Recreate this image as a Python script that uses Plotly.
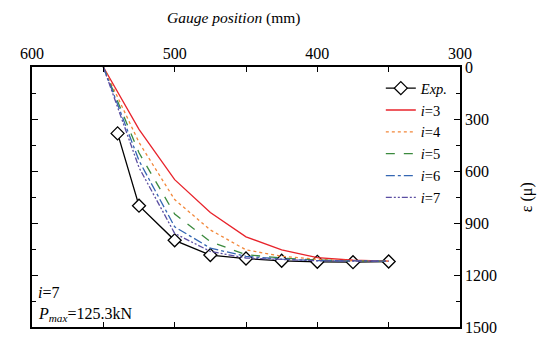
import plotly.graph_objects as go

# Gauge positions (mm)
pos_exp = [540, 525, 500, 475, 450, 425, 400, 375, 350]
exp_vals = [383, 800, 1000, 1085, 1105, 1118, 1124, 1126, 1122]

pos_model = [550, 525, 500, 475, 450, 425, 400, 375, 350]
i3 = [0, 360, 650, 840, 980, 1055, 1100, 1115, 1120]
i4 = [0, 435, 765, 940, 1055, 1092, 1110, 1118, 1120]
i5 = [0, 495, 848, 1007, 1083, 1102, 1114, 1120, 1120]
i6 = [0, 540, 922, 1045, 1092, 1108, 1117, 1120, 1120]
i7 = [0, 580, 960, 1064, 1102, 1112, 1118, 1120, 1120]

x_ticks = [600, 500, 400, 300]
y_ticks = [0, 300, 600, 900, 1200, 1500]

FONT = "Liberation Serif"

fig = go.Figure()
fig.add_trace(go.Scatter(x=pos_exp, y=exp_vals, name="<i>Exp.</i>", mode="lines+markers",
                         line=dict(color="black", width=1.3),
                         marker=dict(symbol="diamond", size=10, color="white",
                                     line=dict(color="black", width=1.3))))
styles = [
    ("<i>i</i>=3", i3, "#e8232b", "solid"),
    ("<i>i</i>=4", i4, "#f2873a", "dot"),
    ("<i>i</i>=5", i5, "#3b8a3e", "dash"),
    ("<i>i</i>=6", i6, "#3567b3", "dashdot"),
    ("<i>i</i>=7", i7, "#5b4ea2", "6px,2px,2px,2px,2px,2px"),
]
for name, vals, col, dash in styles:
    fig.add_trace(go.Scatter(x=pos_model, y=vals, name=name, mode="lines",
                             line=dict(color=col, width=1.3, dash=dash)))

fig.update_layout(
    width=554, height=340,
    margin=dict(l=22, r=102, t=59, b=16),
    paper_bgcolor="white", plot_bgcolor="white",
    font=dict(family=FONT, size=16, color="black"),
    showlegend=True,
    legend=dict(x=0.815, y=0.98, xanchor="left", yanchor="top",
                bgcolor="rgba(0,0,0,0)", font=dict(size=14.5, family=FONT),
                itemwidth=30, tracegroupgap=0),
    xaxis=dict(side="top", range=[600, 300], tickvals=x_ticks,
               ticks="inside", ticklen=5, tickwidth=1, tickcolor="black",
               minor=dict(dtick=50, ticks="inside", ticklen=5, tickcolor="black"),
               showline=True, linecolor="black", linewidth=1.5, mirror="ticks",
               showgrid=False, zeroline=False,
               tickfont=dict(size=16, family=FONT)),
    yaxis=dict(side="right", range=[1500, 0], tickvals=y_ticks,
               ticks="inside", ticklen=6, tickwidth=1, tickcolor="black",
               minor=dict(dtick=150, ticks="inside", ticklen=4, tickcolor="black"),
               showline=True, linecolor="black", linewidth=1.5, mirror="ticks",
               showgrid=False, zeroline=False,
               tickfont=dict(size=16, family=FONT)),
    annotations=[
        dict(text="<i>Gauge position</i> (mm)", xref="paper", yref="paper",
             x=0.47, y=1.19, xanchor="center", yanchor="middle", showarrow=False,
             font=dict(size=15.5, family=FONT)),
        dict(text="ε (μ)", xref="paper", yref="paper", x=1.157, y=0.5,
             xanchor="center", yanchor="middle", textangle=-90, showarrow=False,
             font=dict(size=16, family=FONT)),
        dict(text="<i>i</i>=7", xref="paper", yref="paper", x=0.01, y=0.133,
             xanchor="left", yanchor="middle", showarrow=False,
             font=dict(size=16, family=FONT)),
        dict(text="<i>P</i><sub><i>max</i></sub>=125.3kN", xref="paper", yref="paper",
             x=0.01, y=0.048, xanchor="left", yanchor="middle", showarrow=False,
             font=dict(size=16, family=FONT)),
    ],
)

fig.write_html("out.html")
